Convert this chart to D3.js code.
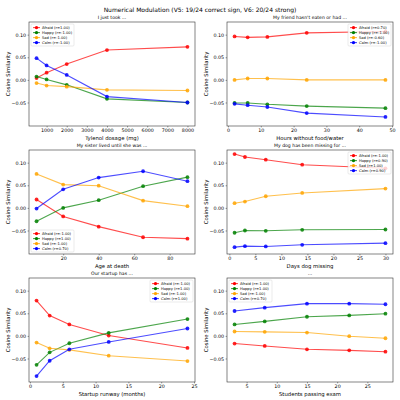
<!DOCTYPE html>
<html>
<head>
<meta charset="utf-8">
<script src="https://cdn.jsdelivr.net/npm/d3@7"></script>
<style>
  body { margin: 0; background: #fff; }
  text { font-family: "DejaVu Sans", sans-serif; fill: #000; }
</style>
</head>
<body>
<div id="holder"></div>
<script>
var width = 400;
var height = 400;

var suptitle = "Numerical Modulation (V5: 19/24 correct sign, V6: 20/24 strong)";
var titles = ["I just took ...", "My friend hasn't eaten or had ...", "My sister lived until she was ...",
  "My dog has been missing for ...", "Our startup has ...", "..."];
var xLabels = ["Tylenol dosage (mg)", "Hours without food/water", "Age at death",
  "Days dog missing", "Startup runway (months)", "Students passing exam"];
var xValues = [
  [500, 1000, 2000, 4000, 8000],
  [2, 6, 12, 24, 48],
  [5, 20, 40, 65, 90],
  [1, 3, 7, 14, 30],
  [1, 3, 6, 12, 24],
  [3, 8, 15, 22, 28]
];
var xTicks = [
  [1000, 2000, 3000, 4000, 5000, 6000, 7000, 8000],
  [0, 10, 20, 30, 40, 50],
  [20, 40, 60, 80],
  [0, 5, 10, 15, 20, 25, 30],
  [0, 5, 10, 15, 20, 25],
  [5, 10, 15, 20, 25]
];
var yTicks = [-0.05, 0, 0.05, 0.10];

var seriesNames = ["Afraid", "Happy", "Sad", "Calm"];
var seriesColors = ["red", "green", "orange", "blue"];

var afraid = [
  [0.004, 0.016, 0.035, 0.066, 0.073],
  [0.096, 0.094, 0.095, 0.104, 0.107],
  [0.0185, -0.019, -0.0415, -0.065, -0.068],
  [0.119, 0.1125, 0.1065, 0.0955, 0.0875],
  [0.078, 0.045, 0.0253, 0.0007, -0.0267],
  [-0.017, -0.0223, -0.0297, -0.032, -0.035]
];
var happy = [
  [0.0074, 0.001, -0.011, -0.042, -0.050],
  [-0.051, -0.051, -0.054, -0.058, -0.0625],
  [-0.0296, 0.0, 0.017, 0.048, 0.068],
  [-0.055, -0.050, -0.0507, -0.0485, -0.0478],
  [-0.064, -0.0364, -0.0163, 0.0067, 0.0372],
  [0.0253, 0.032, 0.0423, 0.0453, 0.049]
];
var sad = [
  [-0.007, -0.0125, -0.015, -0.022, -0.0235],
  [0.0, 0.003, 0.003, 0.0, 0.0],
  [0.075, 0.0515, 0.049, 0.016, 0.0037],
  [0.0103, 0.014, 0.0257, 0.033, 0.0426],
  [-0.0149, -0.0275, -0.031, -0.0438, -0.0557],
  [0.0097, 0.0089, 0.0074, -0.0007, -0.0052]
];
var calm = [
  [0.048, 0.032, 0.011, -0.037, -0.050],
  [-0.053, -0.056, -0.060, -0.0735, -0.082],
  [-0.0015, 0.041, 0.067, 0.081, 0.059],
  [-0.0868, -0.0846, -0.0853, -0.0816, -0.078],
  [-0.089, -0.055, -0.0297, -0.0134, 0.0163],
  [0.055, 0.0624, 0.0713, 0.0713, 0.070]
];
var rLabels = [
  ["1.00", "-1.00", "-1.00", "-1.00"],
  ["0.70", "-1.00", "-0.60", "-1.00"],
  ["-1.00", "1.00", "-1.00", "0.70"],
  ["-1.00", "0.90", "1.00", "0.90"],
  ["-1.00", "1.00", "-1.00", "1.00"],
  ["-1.00", "1.00", "-1.00", "0.70"]
];
var legendLoc = ["ul", "ur", "ll", "ur", "ur", "ul"];

var colX = [29, 227];
var rowY = [22, 150, 278];
var pw = 166;
var ph = 104;
var yDomain = [-0.102, 0.128];

var svg = d3.select("#holder")
  .append("svg")
  .attr("width", width)
  .attr("height", height);

svg.append("rect").attr("width", width).attr("height", height).attr("fill", "#fff");

svg.append("text")
  .attr("x", 200)
  .attr("y", 12)
  .attr("text-anchor", "middle")
  .style("font-size", "6px")
  .text(suptitle);

function fmtY(v) {
  var s = d3.format(".2f")(Math.abs(v));
  return v < 0 ? "\u2212" + s : s;
}

for (var p = 0; p < 6; p++) {
  drawPanel(p);
}

function drawPanel(p) {
  var x0 = colX[p % 2];
  var y0 = rowY[Math.floor(p / 2)];
  var xs = xValues[p];
  var lo = d3.min(xs), hi = d3.max(xs), pad = (hi - lo) * 0.05;

  var x = d3.scaleLinear().domain([lo - pad, hi + pad]).range([0, pw]);
  var y = d3.scaleLinear().domain(yDomain).range([ph, 0]);

  var g = svg.append("g").attr("transform", "translate(" + x0 + "," + y0 + ")");

  g.append("text")
    .attr("x", pw / 2)
    .attr("y", -3)
    .attr("text-anchor", "middle")
    .style("font-size", "4.6px")
    .text(titles[p]);

  var xAxis = g.append("g")
    .attr("transform", "translate(0," + ph + ")")
    .call(d3.axisBottom(x).tickValues(xTicks[p]).tickSize(1.4).tickPadding(1.5).tickFormat(d3.format("d")));
  xAxis.select(".domain").remove();
  xAxis.selectAll("line").attr("stroke", "#333").attr("stroke-width", 0.5);
  xAxis.selectAll("text").style("font-size", "4.8px").attr("fill", "#000");

  var yAxis = g.append("g")
    .call(d3.axisLeft(y).tickValues(yTicks).tickSize(1.4).tickPadding(1.5).tickFormat(fmtY));
  yAxis.select(".domain").remove();
  yAxis.selectAll("line").attr("stroke", "#333").attr("stroke-width", 0.5);
  yAxis.selectAll("text").style("font-size", "4.8px").attr("fill", "#000");

  g.append("text")
    .attr("x", pw / 2)
    .attr("y", ph + 14)
    .attr("text-anchor", "middle")
    .style("font-size", "5.3px")
    .text(xLabels[p]);

  g.append("text")
    .attr("transform", "translate(-19," + (ph / 2) + ") rotate(-90)")
    .attr("text-anchor", "middle")
    .style("font-size", "5.3px")
    .text("Cosine Similarity");

  var all = [afraid[p], happy[p], sad[p], calm[p]];
  var line = d3.line().x(function(d, i) { return x(xs[i]); }).y(function(d) { return y(d); });

  all.forEach(function(vals, s) {
    g.append("path")
      .datum(vals)
      .attr("d", line)
      .attr("fill", "none")
      .attr("stroke", seriesColors[s])
      .attr("stroke-width", 1.1)
      .attr("opacity", 0.7);
    g.selectAll(null)
      .data(vals)
      .enter().append("circle")
      .attr("cx", function(d, i) { return x(xs[i]); })
      .attr("cy", function(d) { return y(d); })
      .attr("r", 1.9)
      .attr("fill", seriesColors[s])
      .attr("opacity", 0.85);
  });

  g.append("rect")
    .attr("width", pw)
    .attr("height", ph)
    .attr("fill", "none")
    .attr("stroke", "#333")
    .attr("stroke-width", 0.6);

  // legend
  var lw = 43, lh = 22;
  var lx = legendLoc[p] == "ur" ? pw - lw - 2 : 2;
  var ly = legendLoc[p] == "ll" ? ph - lh - 2 : 2;
  var leg = g.append("g").attr("transform", "translate(" + lx + "," + ly + ")");
  leg.append("rect")
    .attr("width", lw)
    .attr("height", lh)
    .attr("rx", 1)
    .attr("fill", "#fff")
    .attr("fill-opacity", 0.8)
    .attr("stroke", "#ccc")
    .attr("stroke-width", 0.4);
  seriesNames.forEach(function(name, s) {
    var ry = 3.6 + s * 5;
    leg.append("line")
      .attr("x1", 2).attr("x2", 9)
      .attr("y1", ry).attr("y2", ry)
      .attr("stroke", seriesColors[s])
      .attr("stroke-width", 1.1)
      .attr("opacity", 0.7);
    leg.append("circle")
      .attr("cx", 5.5).attr("cy", ry).attr("r", 1.7)
      .attr("fill", seriesColors[s]);
    leg.append("text")
      .attr("x", 11)
      .attr("y", ry + 1.3)
      .style("font-size", "3.7px")
      .text(name + " (r=" + rLabels[p][s] + ")");
  });
}
</script>
</body>
</html>
